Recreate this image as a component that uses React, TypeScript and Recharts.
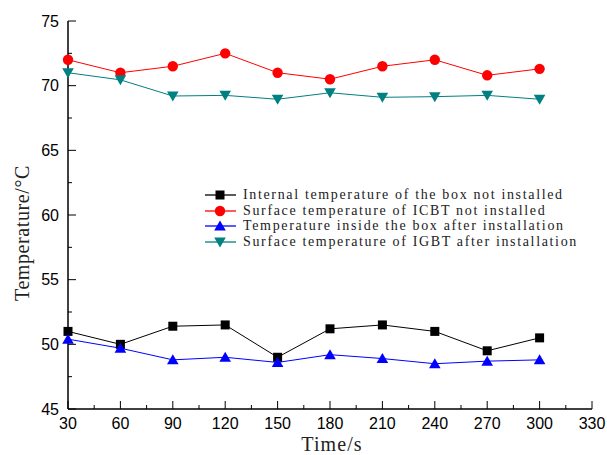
import { Legend, Line, LineChart, XAxis, YAxis } from "recharts";

const TIMES = [30, 60, 90, 120, 150, 180, 210, 240, 270, 300];
const BOX_NOT_INSTALLED = [51.0, 50.0, 51.4, 51.5, 49.0, 51.2, 51.5, 51.0, 49.5, 50.5];
const ICBT_NOT_INSTALLED = [72.0, 71.0, 71.5, 72.5, 71.0, 70.5, 71.5, 72.0, 70.8, 71.3];
const BOX_AFTER = [50.4, 49.7, 48.8, 49.0, 48.6, 49.2, 48.9, 48.5, 48.7, 48.8];
const IGBT_AFTER = [71.0, 70.45, 69.2, 69.25, 68.95, 69.45, 69.1, 69.15, 69.25, 68.95];

const X_MAJOR = [30, 60, 90, 120, 150, 180, 210, 240, 270, 300, 330];
const X_MINOR = [45, 75, 105, 135, 165, 195, 225, 255, 285, 315];
const Y_MAJOR = [45, 50, 55, 60, 65, 70, 75];
const Y_MINOR = [47.5, 52.5, 57.5, 62.5, 67.5, 72.5];

type Shape = "square" | "circle" | "up" | "down";

const SERIES: { key: string; name: string; color: string; shape: Shape }[] = [
  { key: "boxNot", name: "Internal temperature of the box not installed", color: "#000000", shape: "square" },
  { key: "icbtNot", name: "Surface temperature of ICBT not installed", color: "#ff0000", shape: "circle" },
  { key: "boxAfter", name: "Temperature inside the box after installation", color: "#0000ff", shape: "up" },
  { key: "igbtAfter", name: "Surface temperature of IGBT after installation", color: "#008080", shape: "down" },
];

const data = TIMES.map((t, i) => ({
  time: t,
  boxNot: BOX_NOT_INSTALLED[i],
  icbtNot: ICBT_NOT_INSTALLED[i],
  boxAfter: BOX_AFTER[i],
  igbtAfter: IGBT_AFTER[i],
}));

const TICK_FONT = "'Liberation Sans', Arial, sans-serif";
const TITLE_FONT = "'Liberation Serif', 'Times New Roman', serif";

function Marker({ shape, color, cx, cy }: { shape: Shape; color: string; cx: number; cy: number }) {
  if (shape === "square") return <rect x={cx - 4.5} y={cy - 4.5} width={9} height={9} fill={color} />;
  if (shape === "circle") return <circle cx={cx} cy={cy} r={5.2} fill={color} />;
  if (shape === "up")
    return <polygon points={`${cx},${cy - 5.5} ${cx + 5.8},${cy + 4.5} ${cx - 5.8},${cy + 4.5}`} fill={color} />;
  return <polygon points={`${cx},${cy + 5.5} ${cx + 5.8},${cy - 4.5} ${cx - 5.8},${cy - 4.5}`} fill={color} />;
}

function XTick(props: any) {
  const { x, y, payload } = props;
  const axisY = y - 9;
  const major = X_MAJOR.includes(payload.value);
  return (
    <g>
      <line x1={x} x2={x} y1={axisY} y2={axisY - (major ? 8 : 4)} stroke="#000" strokeWidth={1} />
      {major && (
        <text x={x} y={y} dy="0.71em" textAnchor="middle" fontFamily={TICK_FONT} fontSize={16} fill="#000">
          {payload.value}
        </text>
      )}
    </g>
  );
}

function YTick(props: any) {
  const { x, y, payload } = props;
  const axisX = x + 9;
  const major = Y_MAJOR.includes(payload.value);
  return (
    <g>
      <line x1={axisX} x2={axisX + (major ? 8 : 4)} y1={y} y2={y} stroke="#000" strokeWidth={1} />
      {major && (
        <text x={x} y={y} dy="0.36em" textAnchor="end" fontFamily={TICK_FONT} fontSize={16} fill="#000">
          {payload.value}
        </text>
      )}
    </g>
  );
}

function LegendBox() {
  return (
    <div style={{ fontFamily: TITLE_FONT, fontSize: 14, letterSpacing: 1.65, color: "#222", lineHeight: "15.7px" }}>
      {SERIES.map((s) => (
        <div key={s.key} style={{ display: "flex", alignItems: "center", height: 15.7 }}>
          <svg width={39} height={14} style={{ flex: "none" }}>
            <line x1={1} x2={32} y1={7} y2={7} stroke={s.color} strokeWidth={1.3} />
            <Marker shape={s.shape} color={s.color} cx={16} cy={7} />
          </svg>
          <span style={{ whiteSpace: "nowrap" }}>{s.name}</span>
        </div>
      ))}
    </div>
  );
}

export default function App() {
  return (
    <div style={{ position: "absolute", left: 0, top: 0, background: "#fff" }}>
      <LineChart width={607} height={455} data={data} margin={{ top: 21, right: 15, left: 0, bottom: 0 }}>
        <XAxis
          dataKey="time"
          type="number"
          domain={[30, 330]}
          ticks={[...X_MAJOR, ...X_MINOR].sort((a, b) => a - b)}
          interval={0}
          height={46}
          tickSize={0}
          tickMargin={9}
          tickLine={false}
          tick={<XTick />}
          axisLine={{ stroke: "#000", strokeWidth: 1.5 }}
          label={({ viewBox }: any) => (
            <text
              x={viewBox.x + viewBox.width / 2 + 2}
              y={viewBox.y + 42}
              textAnchor="middle"
              fontFamily={TITLE_FONT}
              fontSize={20}
              letterSpacing={1.1}
              fill="#222"
            >
              Time/s
            </text>
          )}
        />
        <YAxis
          type="number"
          domain={[45, 75]}
          ticks={[...Y_MAJOR, ...Y_MINOR].sort((a, b) => a - b)}
          interval={0}
          width={68}
          tickSize={0}
          tickMargin={9}
          tickLine={false}
          tick={<YTick />}
          axisLine={{ stroke: "#000", strokeWidth: 1.5 }}
          label={() => (
            <text
              x={22}
              y={233}
              transform="rotate(-90 22 233)"
              textAnchor="middle"
              dominantBaseline="central"
              fontFamily={TITLE_FONT}
              fontSize={20}
              letterSpacing={0.6}
              fill="#222"
            >
              Temperature/°C
            </text>
          )}
        />
        <Legend
          layout="horizontal"
          verticalAlign="middle"
          align="center"
          content={() => <LegendBox />}
          wrapperStyle={{ position: "absolute", left: 204, top: 187, width: 420 }}
        />
        {SERIES.map((s) => (
          <Line
            key={s.key}
            dataKey={s.key}
            name={s.name}
            stroke={s.color}
            strokeWidth={1}
            isAnimationActive={false}
            dot={(p: any) => <Marker key={`${s.key}-${p.index}`} shape={s.shape} color={s.color} cx={p.cx} cy={p.cy} />}
            activeDot={false}
          />
        ))}
      </LineChart>
    </div>
  );
}
